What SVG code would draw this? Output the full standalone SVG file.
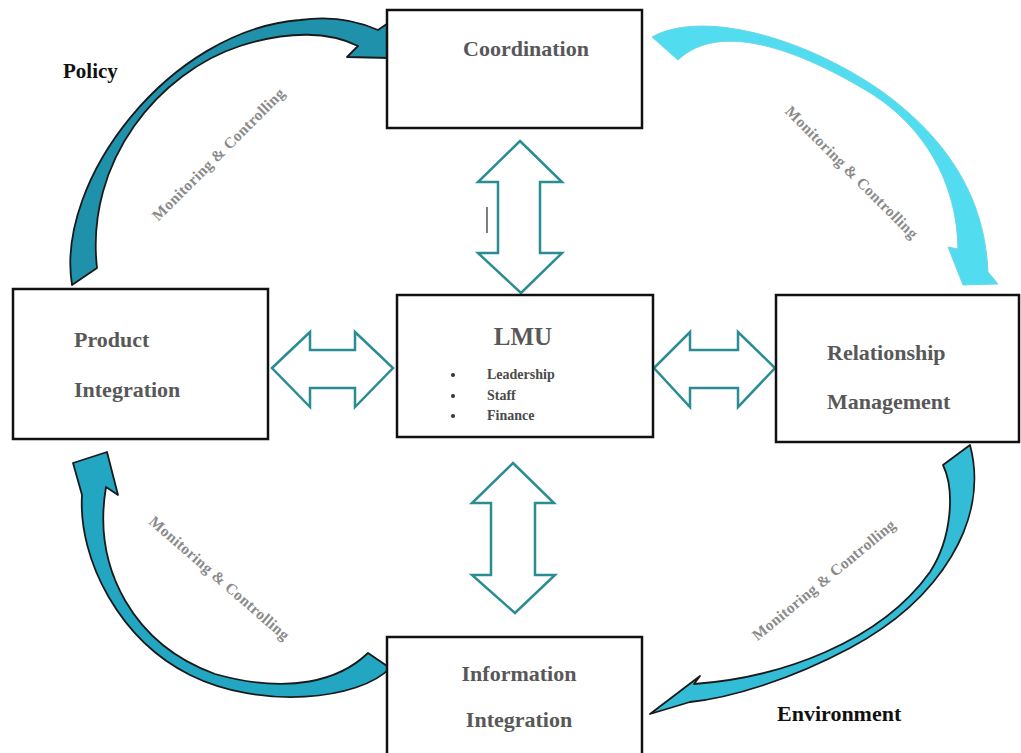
<svg xmlns="http://www.w3.org/2000/svg" width="1021" height="753" viewBox="0 0 1021 753">
<style>
.box{fill:#fff;stroke:#111;stroke-width:2.5}
.bt{font-family:"Liberation Serif","Times New Roman",serif;font-weight:bold;font-size:22px;fill:#585858}
.lt{font-family:"Liberation Serif","Times New Roman",serif;font-weight:bold;font-size:22px;fill:#111}
.mc{font-family:"Liberation Serif","Times New Roman",serif;font-weight:bold;font-size:15.5px;fill:#8a8a8a;text-anchor:middle}
.li{font-family:"Liberation Serif","Times New Roman",serif;font-weight:bold;font-size:14px;fill:#4a4a4a}
.dbl{fill:#fff;stroke:#2b8c93;stroke-width:2.5;stroke-linejoin:miter}
.cv{stroke:#1a1a1a;stroke-width:1.8;stroke-linejoin:round}
</style>
<rect width="1021" height="753" fill="#fff"/>
<g id="connectors">
  <path id="arc-tl" class="cv" fill="#1f91ab" d="M 72,285 C 55,180 170,30 300,20 C 335,15 360,22 378,30 L 394,19 L 390,58 L 347,57 L 358,46 C 330,32 290,30 240,46 C 160,72 85,160 97,268 Z"/>
  <path id="arc-tr" fill="#52dcf0" stroke="#6fd6e4" stroke-width="1" d="M 652,37 C 700,10 800,35 880,90 C 950,140 985,200 988,272 L 998,284 L 963,285 L 948,247 L 958,249 C 957,180 922,126 872,94 C 800,50 720,20 678,60 Z"/>
  <path id="arc-br" class="cv" fill="#33bcd5" d="M 970,445 C 990,520 940,600 850,648 C 790,680 730,698 690,702 L 650,714 L 700,676 L 694,684 C 780,678 880,642 930,572 C 952,538 955,490 943,465 Z"/>
  <path id="arc-bl" class="cv" fill="#22a6c2" d="M 390,668 C 360,700 260,710 190,675 C 120,640 78,560 82,495 L 73,463 L 107,452 L 118,495 L 106,487 C 92,570 135,645 215,674 C 290,695 340,680 368,653 Z"/>
  <polygon id="dbl-top" class="dbl" points="520,141 562,182 540,182 540,253 562,253 521,293 478,253 498,253 498,182 478,182"/>
  <polygon id="dbl-bottom" class="dbl" points="513,463 554,503 535,503 535,575 555,575 515,613 472,575 491,575 491,503 472,503"/>
  <polygon id="dbl-left" class="dbl" points="272,368 310,332 310,350 355,350 355,332 393,368 355,407 355,388 310,388 310,407"/>
  <polygon id="dbl-right" class="dbl" points="654,368 690,332 690,350 738,350 738,332 775,368 738,407 738,388 690,388 690,407"/>
  <line x1="487" y1="207" x2="487" y2="233" stroke="#555" stroke-width="1.5"/>
  <text class="mc" transform="translate(222,158) rotate(-45)" textLength="180">Monitoring &amp; Controlling</text>
  <text class="mc" transform="translate(848,176) rotate(45)" textLength="180">Monitoring &amp; Controlling</text>
  <text class="mc" transform="translate(216,582) rotate(41)" textLength="180">Monitoring &amp; Controlling</text>
  <text class="mc" transform="translate(827,584) rotate(-39.5)" textLength="180">Monitoring &amp; Controlling</text>
</g>
<g id="coordination">
  <rect class="box" x="387" y="10" width="255" height="118"/>
  <text class="bt" x="526" y="56" text-anchor="middle">Coordination</text>
</g>
<g id="product-integration">
  <rect class="box" x="13" y="289" width="255" height="150"/>
  <text class="bt" x="74" y="347">Product</text>
  <text class="bt" x="74" y="397">Integration</text>
</g>
<g id="lmu">
  <rect class="box" x="397" y="295" width="256" height="142"/>
  <text class="bt" x="523" y="345" text-anchor="middle" style="font-size:25px">LMU</text>
  <circle cx="453" cy="375" r="2" fill="#333"/>
  <circle cx="453" cy="396" r="2" fill="#333"/>
  <circle cx="453" cy="416" r="2" fill="#333"/>
  <text class="li" x="487" y="379">Leadership</text>
  <text class="li" x="487" y="400">Staff</text>
  <text class="li" x="487" y="420">Finance</text>
</g>
<g id="relationship-management">
  <rect class="box" x="776" y="295" width="243" height="147"/>
  <text class="bt" x="827" y="360">Relationship</text>
  <text class="bt" x="827" y="409">Management</text>
</g>
<g id="information-integration">
  <rect class="box" x="387" y="637" width="255" height="120"/>
  <text class="bt" x="519" y="681" text-anchor="middle">Information</text>
  <text class="bt" x="519" y="727" text-anchor="middle">Integration</text>
</g>
<g id="policy">
  <text class="lt" x="63" y="78" style="font-size:21px">Policy</text>
</g>
<g id="environment">
  <text class="lt" x="777" y="721">Environment</text>
</g>
</svg>
